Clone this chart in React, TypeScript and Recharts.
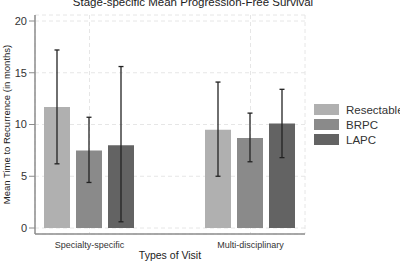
import { BarChart, Bar, XAxis, YAxis, CartesianGrid, ErrorBar } from "recharts";

// Types of visit (x categories)
const visitTypes = ["Specialty-specific", "Multi-disciplinary"];

// stage series
const stageNames = ["Resectable", "BRPC", "LAPC"];
const stageColors = ["#b0b0b0", "#8a8a8a", "#636363"];

// mean time to recurrence, months
const resectableMean = [11.7, 9.5];
const brpcMean = [7.5, 8.7];
const lapcMean = [8.0, 10.1];

// whisker ends (lower, upper)
const resectableLow = [6.2, 5.0];
const resectableHigh = [17.2, 14.1];
const brpcLow = [4.4, 6.4];
const brpcHigh = [10.7, 11.1];
const lapcLow = [0.6, 6.8];
const lapcHigh = [15.6, 13.4];

const yTicks = [0, 5, 10, 15, 20];

const data = visitTypes.map((visit, i) => ({
  visit,
  Resectable: resectableMean[i],
  BRPC: brpcMean[i],
  LAPC: lapcMean[i],
  resErr: [resectableMean[i] - resectableLow[i], resectableHigh[i] - resectableMean[i]],
  brpcErr: [brpcMean[i] - brpcLow[i], brpcHigh[i] - brpcMean[i]],
  lapcErr: [lapcMean[i] - lapcLow[i], lapcHigh[i] - lapcMean[i]],
}));

const errKeys = ["resErr", "brpcErr", "lapcErr"];

const font = "'Liberation Sans', Arial, sans-serif";

export default function App() {
  return (
    <div style={{ position: "absolute", left: 0, top: 0, width: 400, height: 261, background: "#fff", overflow: "hidden" }}>
      <div
        style={{
          position: "absolute",
          left: 0,
          width: 386,
          top: -4,
          textAlign: "center",
          fontFamily: font,
          fontSize: 11.5,
          color: "#222",
          whiteSpace: "nowrap",
        }}
      >
        Stage-specific Mean Progression-Free Survival
      </div>
      <BarChart
        width={400}
        height={261}
        data={data}
        margin={{ top: 15, right: 95, bottom: 0, left: 0 }}
        barCategoryGap={35}
        barGap={6}
        style={{ fontFamily: font }}
      >
        <CartesianGrid stroke="#e6e6e6" strokeDasharray="4 3" />
        <XAxis
          dataKey="visit"
          padding={{ left: -26, right: -26 }}
          height={27}
          tickLine={false}
          axisLine={{ stroke: "#8c8c8c", strokeWidth: 1.5 }}
          tick={{ fontSize: 9, fill: "#333" }}
          tickMargin={2}
          interval={0}
          label={{ value: "Types of Visit", position: "insideBottom", offset: 2, fontSize: 10.5, fill: "#222" }}
        />
        <YAxis
          width={35}
          domain={[0, 20]}
          ticks={yTicks}
          padding={{ top: 6, bottom: 6 }}
          tick={{ fontSize: 11, fill: "#333" }}
          tickLine={{ stroke: "#8c8c8c" }}
          axisLine={{ stroke: "#8c8c8c", strokeWidth: 1.5 }}
          label={{
            value: "Mean Time to Recurrence (in months)",
            angle: -90,
            position: "insideLeft",
            offset: 0,
            dx: 7,
            textAnchor: "middle",
            fontSize: 9.5,
            fill: "#222",
          }}
        />
        {stageNames.map((name, k) => (
          <Bar key={name} dataKey={name} fill={stageColors[k]} isAnimationActive={false}>
            <ErrorBar dataKey={errKeys[k]} width={2.5} stroke="#222" strokeWidth={1.3} />
          </Bar>
        ))}
      </BarChart>
      <div style={{ position: "absolute", left: 314, top: 102, fontFamily: font }}>
        {stageNames.map((name, k) => (
          <div key={name} style={{ display: "flex", alignItems: "center", height: 15 }}>
            <div style={{ width: 25, height: 11, background: stageColors[k], marginRight: 7 }} />
            <span style={{ fontSize: 11.5, color: "#333", whiteSpace: "nowrap" }}>{name}</span>
          </div>
        ))}
      </div>
    </div>
  );
}
